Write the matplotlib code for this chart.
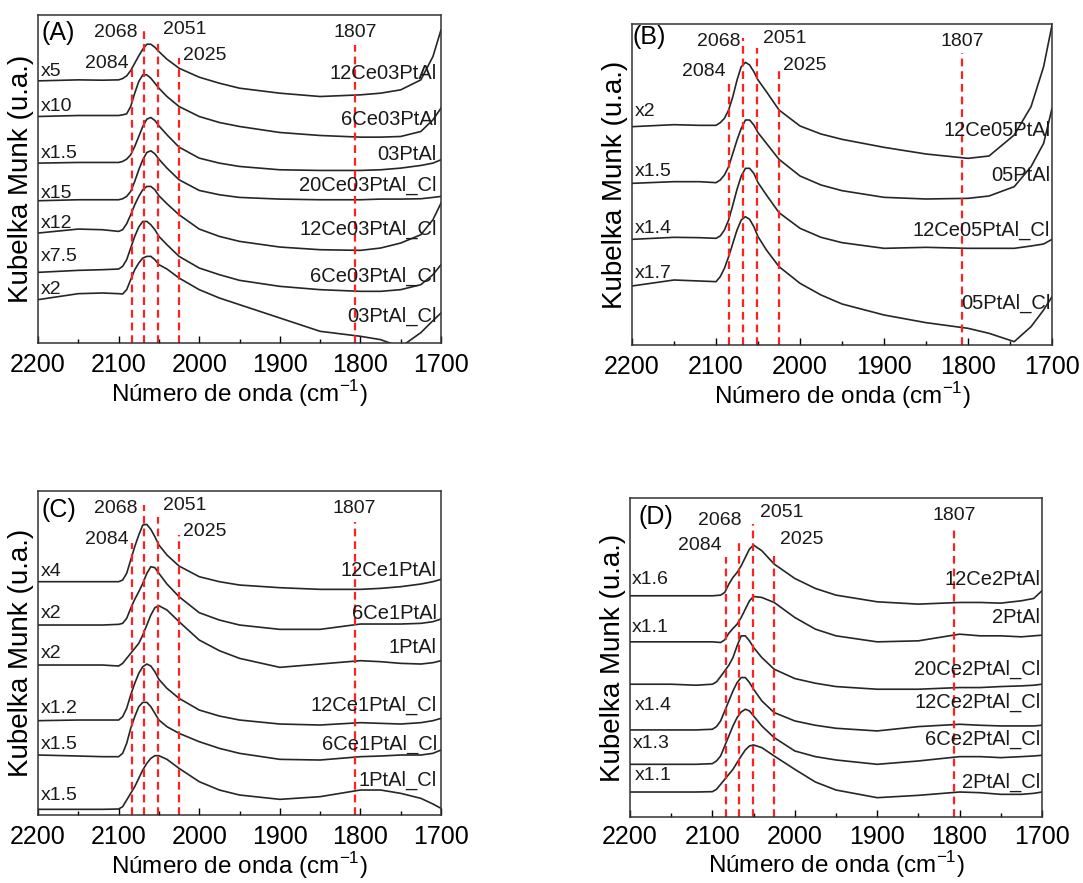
import numpy as np
import matplotlib
matplotlib.use("Agg")
import matplotlib.pyplot as plt

plt.rcParams['font.family'] = ['Liberation Sans', 'DejaVu Sans']

# wavenumber grids (cm-1) used for the read-off points
wn_A = [2200, 2150, 2120, 2100, 2095, 2090, 2085, 2080, 2075, 2070, 2065, 2060, 2055, 2050,
        2040, 2025, 2000, 1975, 1950, 1900, 1850, 1800, 1775, 1750, 1725, 1710, 1700]
wn_B = [2200, 2150, 2120, 2100, 2095, 2090, 2085, 2080, 2075, 2070, 2065, 2060, 2055, 2050,
        2040, 2025, 2000, 1975, 1950, 1900, 1850, 1800, 1775, 1745, 1725, 1710, 1700]
wn_C = wn_A
wn_D = wn_A

# Kubelka Munk (stacked, arbitrary units)
names_A = ["12Ce03PtAl", "6Ce03PtAl", "03PtAl", "20Ce03PtAl_Cl", "12Ce03PtAl_Cl", "6Ce03PtAl_Cl", "03PtAl_Cl"]
mult_A = ["x5", "x10", "x1.5", "x15", "x12", "x7.5", "x2"]
km_A = [
    [787, 790, 789, 790, 794, 802, 818, 840, 862, 882, 897, 897, 888, 875, 852, 825, 798, 780, 765, 750, 740, 745, 750, 760, 790, 860, 940],
    [680, 683, 683, 683, 685, 688, 710, 750, 785, 805, 805, 795, 780, 765, 740, 710, 680, 662, 650, 632, 623, 618, 618, 620, 635, 670, 705],
    [540, 542, 542, 542, 545, 552, 565, 590, 620, 650, 672, 677, 668, 652, 625, 588, 555, 540, 530, 520, 518, 518, 520, 525, 533, 540, 550],
    [427, 430, 430, 430, 433, 440, 455, 485, 520, 550, 572, 577, 568, 552, 525, 490, 458, 445, 437, 432, 430, 430, 432, 432, 433, 437, 440],
    [330, 342, 340, 335, 340, 358, 385, 415, 440, 460, 470, 470, 460, 442, 418, 385, 342, 320, 305, 288, 280, 278, 285, 300, 325, 370, 420],
    [212, 218, 220, 222, 230, 250, 285, 320, 348, 365, 365, 355, 340, 320, 295, 260, 225, 205, 188, 170, 160, 155, 155, 160, 175, 205, 235],
    [130, 148, 150, 148, 147, 160, 190, 220, 240, 255, 260, 260, 250, 235, 222, 195, 160, 135, 115, 75, 35, 20, 10, -12, 31, 67, 90],
]
names_B = ["12Ce05PtAl", "05PtAl", "12Ce05PtAl_Cl", "05PtAl_Cl"]
mult_B = ["x2", "x1.5", "x1.4", "x1.7"]
km_B = [
    [655, 661, 659, 659, 667, 680, 705, 745, 795, 835, 848, 840, 820, 795, 760, 705, 657, 633, 617, 593, 573, 560, 567, 630, 715, 835, 960],
    [485, 490, 490, 487, 495, 510, 535, 575, 615, 650, 675, 675, 660, 637, 605, 557, 507, 480, 463, 443, 438, 440, 447, 475, 535, 605, 710],
    [317, 323, 322, 320, 327, 345, 375, 420, 467, 507, 530, 530, 515, 487, 450, 397, 350, 323, 307, 290, 293, 290, 290, 290, 297, 303, 317],
    [177, 195, 192, 190, 205, 230, 265, 305, 345, 375, 385, 377, 355, 325, 285, 235, 185, 150, 123, 90, 67, 50, 35, 10, 55, 105, 145],
]
names_C = ["12Ce1PtAl", "6Ce1PtAl", "1PtAl", "12Ce1PtAl_Cl", "6Ce1PtAl_Cl", "1PtAl_Cl"]
mult_C = ["x4", "x2", "x2", "x1.2", "x1.5", "x1.5"]
km_C = [
    [700, 700, 700, 700, 705, 725, 765, 805, 840, 870, 872, 857, 835, 810, 780, 747, 715, 700, 690, 682, 677, 677, 680, 685, 693, 700, 707],
    [570, 570, 570, 572, 575, 590, 620, 647, 670, 695, 725, 745, 742, 725, 693, 655, 607, 585, 570, 557, 557, 573, 573, 573, 575, 580, 588],
    [450, 450, 450, 447, 455, 470, 485, 500, 515, 540, 570, 600, 622, 628, 615, 580, 525, 493, 470, 443, 453, 463, 460, 455, 453, 457, 463],
    [283, 285, 285, 285, 295, 320, 360, 395, 425, 445, 453, 447, 430, 407, 380, 350, 315, 297, 285, 273, 270, 277, 275, 273, 277, 283, 290],
    [180, 177, 175, 175, 185, 215, 260, 295, 325, 338, 338, 325, 305, 285, 265, 245, 220, 200, 185, 167, 165, 175, 177, 180, 180, 185, 195],
    [17, 17, 17, 18, 25, 45, 65, 85, 110, 135, 155, 170, 178, 178, 167, 140, 100, 75, 60, 47, 55, 75, 75, 65, 50, 33, 20],
]
names_D = ["12Ce2PtAl", "2PtAl", "20Ce2PtAl_Cl", "12Ce2PtAl_Cl", "6Ce2PtAl_Cl", "2PtAl_Cl"]
mult_D = ["x1.6", "x1.1", "", "x1.4", "x1.3", "x1.1"]
km_D = [
    [663, 663, 663, 663, 664, 665, 673, 698, 718, 733, 753, 778, 803, 815, 798, 758, 715, 685, 665, 645, 638, 643, 643, 641, 648, 655, 678],
    [525, 525, 525, 525, 524, 523, 531, 551, 565, 578, 598, 623, 648, 661, 658, 643, 598, 563, 543, 525, 528, 548, 543, 543, 540, 543, 545],
    [398, 398, 395, 398, 405, 421, 438, 455, 478, 513, 543, 543, 528, 508, 478, 443, 415, 401, 391, 383, 383, 388, 388, 391, 393, 395, 398],
    [261, 261, 261, 263, 271, 288, 318, 348, 378, 403, 418, 418, 403, 383, 348, 313, 288, 275, 266, 258, 271, 278, 275, 273, 273, 273, 275],
    [158, 158, 158, 160, 168, 183, 213, 243, 273, 298, 315, 323, 318, 303, 273, 238, 198, 181, 171, 158, 168, 181, 181, 178, 181, 183, 185],
    [75, 75, 75, 76, 83, 98, 113, 128, 143, 163, 183, 201, 213, 216, 208, 183, 143, 105, 81, 58, 65, 75, 73, 68, 68, 71, 75],
]

peaks = [2084, 2068, 2051, 2025, 1807]

# per panel: y-range, dashed line tops, peak label (x, y), multiplier y, sample label y
panels = [
    dict(tag="(A)", wn=wn_A, km=km_A, names=names_A, mult=mult_A, ytop=985,
         box=[0.0351, 0.6116, 0.3721, 0.3715], tagpos=(2196, 930),
         line_top=[830, 940, 910, 855, 895],
         lab_xy=[(2115, 840), (2103, 933), (2018, 942), (1993, 862), (1806, 933)],
         mult_y=[815, 710, 570, 450, 360, 260, 160], mult_x=[2196] * 7,
         name_y=[808, 672, 565, 472, 342, 200, 80], name_x=1705, tpad=7, xlpad=1),
    dict(tag="(B)", wn=wn_B, km=km_B, names=names_B, mult=mult_B, ytop=963,
         box=[0.5836, 0.6093, 0.3878, 0.3635], tagpos=(2199, 925),
         line_top=[790, 920, 890, 835, 875],
         lab_xy=[(2115, 820), (2097, 910), (2018, 920), (1994, 840), (1807, 910)],
         mult_y=[700, 520, 350, 215], mult_x=[2197] * 4,
         name_y=[645, 510, 345, 125], name_x=1702, tpad=7, xlpad=1),
    dict(tag="(C)", wn=wn_C, km=km_C, names=names_C, mult=mult_C, ytop=972,
         box=[0.0351, 0.0770, 0.3721, 0.3669], tagpos=(2196, 915),
         line_top=[815, 930, 895, 840, 880],
         lab_xy=[(2115, 827), (2103, 920), (2018, 930), (1993, 850), (1808, 920)],
         mult_y=[730, 605, 485, 320, 213, 60], mult_x=[2196] * 6,
         name_y=[733, 605, 503, 330, 213, 103], name_x=1705, tpad=7, xlpad=1),
    dict(tag="(D)", wn=wn_D, km=km_D, names=names_D, mult=mult_D, ytop=956,
         box=[0.5817, 0.0747, 0.3804, 0.3613], tagpos=(2190, 898),
         line_top=[778, 833, 878, 783, 863],
         lab_xy=[(2115, 813), (2091, 888), (2016, 913), (1992, 833), (1807, 903)],
         mult_y=[713, 568, 0, 335, 221, 123], mult_x=[2198, 2198, 2198, 2194, 2196, 2194],
         name_y=[711, 598, 443, 343, 233, 103], name_x=1702, tpad=6, xlpad=0),
]

fig = plt.figure(figsize=(10.83, 8.83), dpi=100)

for p in panels:
    ax = fig.add_axes(p["box"])
    for k, y in enumerate(p["km"]):
        ax.plot(p["wn"], y, color="#262626", lw=1.2)
    for pk, top in zip(peaks, p["line_top"]):
        ax.plot([pk, pk], [0, top], color="#ff2020", lw=1.6, dashes=(3.5, 2.2))
    for pk, (lx, ly) in zip(peaks, p["lab_xy"]):
        ax.text(lx, ly, str(pk), ha="center", va="center", fontsize=14, color="#1a1a1a")
    for m, mx, my in zip(p["mult"], p["mult_x"], p["mult_y"]):
        if m:
            ax.text(mx, my, m, ha="left", va="center", fontsize=14, color="#1a1a1a")
    for n, ny in zip(p["names"], p["name_y"]):
        ax.text(p["name_x"], ny, n, ha="right", va="center", fontsize=14.5, color="#1a1a1a")
    ax.text(p["tagpos"][0], p["tagpos"][1], p["tag"], ha="left", va="center", fontsize=18)

    ax.set_xlim(2200, 1700)
    ax.set_ylim(0, p["ytop"])
    ax.set_xticks([2200, 2100, 2000, 1900, 1800, 1700])
    ax.set_xticks(np.arange(1750, 2200, 100), minor=True)
    ax.set_yticks([])
    ax.tick_params(axis="x", which="major", direction="in", length=5, width=1, labelsize=18, pad=p["tpad"])
    ax.tick_params(axis="x", which="minor", direction="in", length=3, width=1)
    for s in ax.spines.values():
        s.set_linewidth(1.1)
        s.set_color("#333333")
    ax.set_xlabel("Número de onda (cm$^{\\mathregular{-1}}$)", fontsize=17.5, labelpad=p["xlpad"])
    ax.set_ylabel("Kubelka Munk (u.a.)", fontsize=20, labelpad=3)

fig.savefig("out.png", dpi=100)
